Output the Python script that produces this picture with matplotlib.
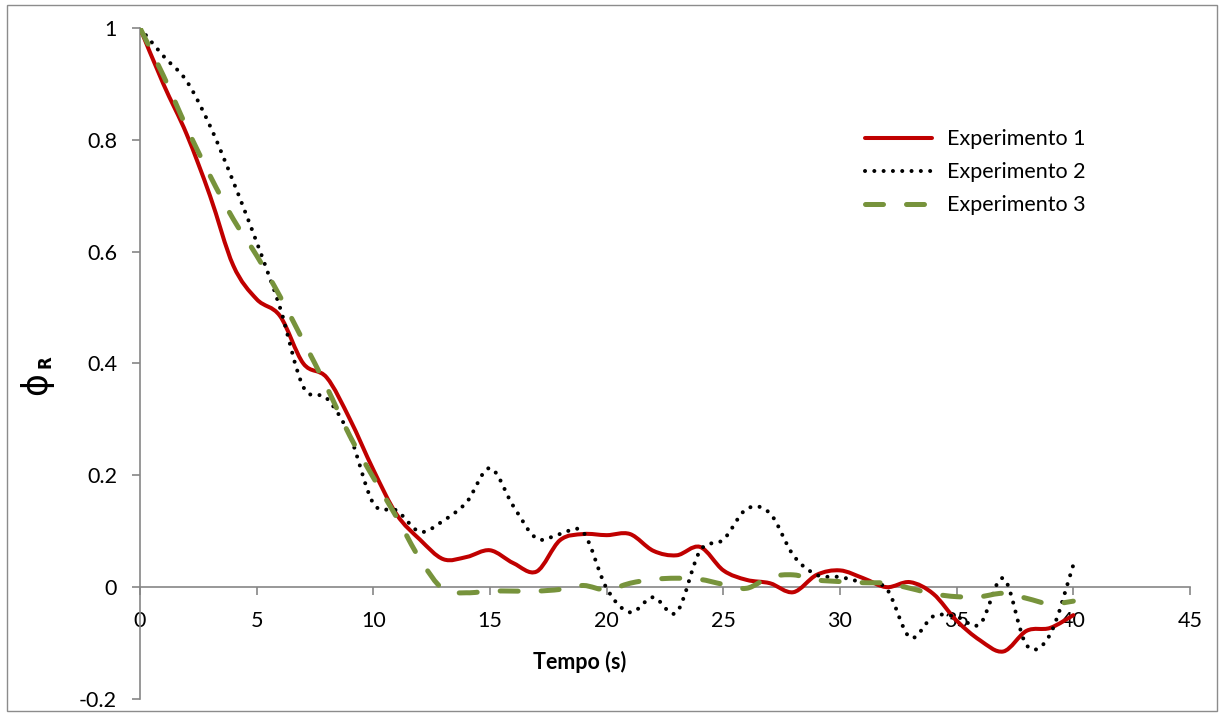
import numpy as np
import matplotlib
matplotlib.use("Agg")
import matplotlib.pyplot as plt
from matplotlib.path import Path
from matplotlib.patches import PathPatch, Rectangle
from matplotlib.lines import Line2D

# time axis (s) and the three runs
tempo = list(range(0, 41))
exp1 = [1.0, 0.90, 0.81, 0.70, 0.575, 0.515, 0.485, 0.40, 0.375, 0.30,
        0.21, 0.13, 0.085, 0.05, 0.054, 0.066, 0.043, 0.028, 0.084, 0.095,
        0.093, 0.095, 0.065, 0.057, 0.072, 0.03, 0.013, 0.007, -0.009, 0.022,
        0.03, 0.016, 0.0, 0.009, -0.012, -0.06, -0.095, -0.115, -0.078, -0.073,
        -0.05]
exp2 = [1.0, 0.95, 0.905, 0.825, 0.725, 0.617, 0.50, 0.358, 0.338, 0.27,
        0.15, 0.137, 0.099, 0.119, 0.152, 0.213, 0.145, 0.087, 0.095, 0.098,
        -0.002, -0.045, -0.018, -0.045, 0.065, 0.085, 0.14, 0.132, 0.057, 0.022,
        0.018, 0.008, -0.003, -0.09, -0.052, -0.053, -0.066, 0.016, -0.104, -0.085,
        0.04]
exp3 = [1.0, 0.915, 0.822, 0.736, 0.658, 0.593, 0.52, 0.44, 0.358, 0.27,
        0.196, 0.125, 0.05, -0.004, -0.01, -0.007, -0.007, -0.007, -0.004, 0.003,
        -0.005, 0.007, 0.014, 0.016, 0.014, 0.005, -0.002, 0.018, 0.022, 0.013,
        0.01, 0.008, 0.007, -0.002, -0.012, -0.017, -0.017, -0.011, -0.02, -0.03,
        -0.025]

labels = ["Experimento 1", "Experimento 2", "Experimento 3"]
x_ticks = [0, 5, 10, 15, 20, 25, 30, 35, 40, 45]
y_ticks = [-0.2, 0, 0.2, 0.4, 0.6, 0.8, 1]
y_tick_labels = ["-0.2", "0", "0.2", "0.4", "0.6", "0.8", "1"]

RED, GREEN, AXC = "#C00000", "#77933C", "#868686"
FONT = "Lato"
FS = 15.5


def smooth_path(xs, ys):
    # spreadsheet-style smoothed line: cubic Bezier through every point
    p = np.column_stack([xs, ys]).astype(float)
    n = len(p)
    verts = [p[0]]
    codes = [Path.MOVETO]
    for i in range(n - 1):
        p0 = p[i - 1] if i > 0 else p[i]
        p3 = p[i + 2] if i + 2 < n else p[i + 1]
        c1 = p[i] + (p[i + 1] - p0) / 6.0
        c2 = p[i + 1] - (p3 - p[i]) / 6.0
        verts += [c1, c2, p[i + 1]]
        codes += [Path.CURVE4] * 3
    return Path(verts, codes)


fig = plt.figure(figsize=(12.23, 7.16), dpi=100)
ax = fig.add_axes([140 / 1223, 1 - 699 / 716, 1050 / 1223, 671 / 716])

styles = [
    dict(color=RED, lw=2.9, ls="-"),
    dict(color="black", lw=2.9, ls=(0, (0.01, 2.3))),
    dict(color=GREEN, lw=3.6, ls=(0, (3.6, 4.6))),
]
for ys, st in zip([exp1, exp2, exp3], styles):
    patch = PathPatch(smooth_path(tempo, ys), facecolor="none",
                      edgecolor=st["color"], lw=st["lw"], linestyle=st["ls"],
                      capstyle="round", joinstyle="round", zorder=3)
    ax.add_patch(patch)

ax.set_xlim(0, 45)
ax.set_ylim(-0.2, 1)
ax.spines["top"].set_visible(False)
ax.spines["right"].set_visible(False)
ax.spines["bottom"].set_position(("data", 0))
for sp in ("left", "bottom"):
    ax.spines[sp].set_color(AXC)
    ax.spines[sp].set_linewidth(1.2)

ax.set_xticks(x_ticks)
ax.set_xticklabels([str(v) for v in x_ticks])
ax.set_yticks(y_ticks)
ax.set_yticklabels(y_tick_labels)
ax.tick_params(axis="x", direction="out", length=5.5, width=1.2, color=AXC,
               pad=12, labelsize=FS)
ax.tick_params(axis="y", direction="out", length=5.5, width=1.2, color=AXC,
               pad=11, labelsize=FS)
for t in ax.get_xticklabels() + ax.get_yticklabels():
    t.set_fontfamily(FONT)

fig.text(580 / 1223, 1 - 662 / 716, "Tempo (s)", ha="center", va="center",
         fontsize=FS, fontweight="bold", family=FONT)
fig.text(36 / 1223, 1 - 384 / 716, "ϕ", rotation=90, ha="center", va="center",
         fontsize=25, family="DejaVu Sans")
fig.text(46 / 1223, 1 - 362 / 716, "R", rotation=90, ha="center", va="center",
         fontsize=12, fontweight="bold", family="DejaVu Sans")

handles = [Line2D([], [], color=st["color"], lw=st["lw"], ls=st["ls"],
                  dash_capstyle="round", solid_capstyle="round")
           for st in styles]
leg = ax.legend(handles, labels, loc="upper left",
                bbox_to_anchor=(846 / 1223, 1 - 110 / 716),
                bbox_transform=fig.transFigure, frameon=False,
                handlelength=3.1, handletextpad=0.7, labelspacing=0.6,
                prop={"family": FONT, "size": FS})

fig.add_artist(Rectangle((7 / 1223, 5 / 716), 1210 / 1223, 706 / 716,
                         transform=fig.transFigure, fill=False,
                         edgecolor="#8c8c8c", lw=1.0))

fig.savefig("out.png", dpi=100)
